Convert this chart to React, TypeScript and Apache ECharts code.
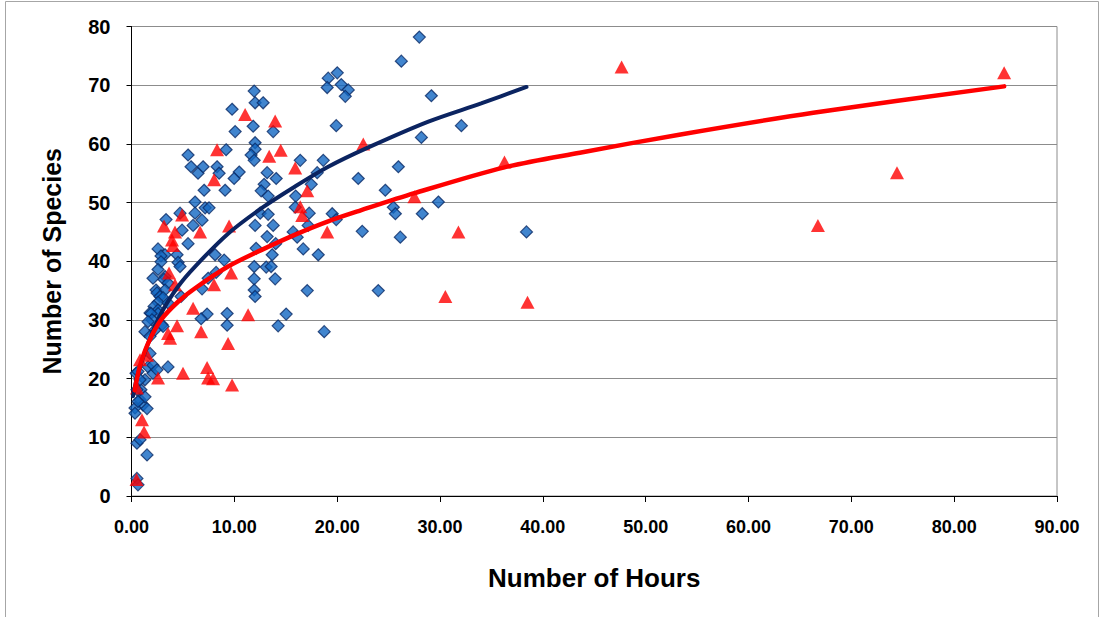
import React, { useEffect, useRef } from "react";
import * as echarts from "echarts";

// Blue diamonds: [hours, species]
const blueSites: [number, number][] = [
  [11.93, 69.0], [12.02, 67.0], [12.8, 67.0], [9.78, 65.9], [11.83, 63.0], [10.08, 62.1], [13.78, 62.1],
  [12.02, 60.2], [12.02, 59.1], [11.63, 58.1], [11.93, 57.2], [9.2, 59.0], [5.5, 58.1], [5.79, 56.1],
  [6.47, 55.0], [6.96, 56.1], [8.32, 56.1], [8.52, 55.0], [10.47, 55.2], [9.98, 54.1], [13.19, 55.1],
  [14.07, 54.1], [12.9, 53.1], [12.61, 52.0], [13.29, 51.1], [9.1, 52.1], [7.06, 52.1], [16.41, 57.2],
  [18.65, 57.2], [18.06, 55.1], [17.48, 53.1], [15.97, 51.1], [15.92, 49.2], [17.28, 48.2], [19.52, 48.1],
  [19.91, 47.1], [17.18, 46.1], [12.51, 48.2], [13.29, 48.0], [12.02, 46.1], [13.78, 46.1], [15.72, 45.0],
  [16.11, 44.1], [13.19, 44.2], [14.02, 43.0], [12.12, 42.2],
  [6.18, 50.1], [7.16, 49.1], [7.54, 49.1], [4.72, 48.2], [6.18, 48.2], [6.86, 47.0], [3.36, 47.1],
  [5.99, 46.1], [4.92, 45.3], [5.5, 43.0],
  [2.58, 42.1], [3.26, 41.1], [4.43, 41.1], [2.87, 40.9], [4.53, 39.8], [2.87, 39.9], [4.72, 39.1],
  [2.58, 38.6], [3.26, 37.4], [2.09, 37.1], [3.16, 36.9], [3.55, 36.3], [2.38, 35.1], [3.26, 35.1],
  [2.48, 34.6], [2.77, 34.0], [3.07, 33.8], [2.58, 33.0], [3.55, 32.9], [2.19, 32.3], [2.58, 31.7],
  [1.8, 31.2], [2.58, 31.1], [1.9, 31.1], [1.99, 30.0], [1.61, 29.7], [2.97, 29.2], [3.07, 28.9],
  [1.31, 28.0], [2.29, 28.3], [1.8, 27.2], [4.82, 34.0],
  [8.13, 41.1], [9.01, 40.2], [8.23, 38.1], [7.45, 37.1], [6.86, 35.3], [7.35, 31.0], [6.77, 30.2],
  [9.3, 31.1], [9.3, 29.1],
  [13.68, 41.1], [16.7, 42.1], [18.16, 41.1], [11.93, 39.1], [13.1, 39.0], [13.58, 39.1], [11.93, 37.0],
  [13.97, 37.0], [11.93, 35.1], [12.02, 34.0], [17.09, 35.0], [15.04, 31.0], [14.26, 29.0], [18.74, 28.0],
  [22.05, 54.1], [24.68, 52.1], [25.95, 56.1], [25.46, 49.2], [25.66, 48.1], [28.28, 48.1], [29.84, 50.1],
  [28.19, 61.1], [29.16, 68.2], [32.08, 63.1], [22.44, 45.1], [26.14, 44.1], [26.24, 74.1], [27.99, 78.2],
  [24.0, 35.0], [38.41, 45.0],
  [20.01, 72.1], [19.13, 71.2], [19.03, 69.6], [20.4, 70.1], [21.08, 69.2], [20.79, 68.1], [19.91, 63.1],
  [3.55, 22.0], [0.44, 20.9], [1.61, 22.0], [2.09, 20.9], [1.31, 19.8], [0.92, 18.1], [0.83, 16.4],
  [1.12, 15.5], [0.34, 15.0], [1.8, 24.3], [2.09, 22.3], [2.48, 21.5], [0.63, 21.2], [0.83, 19.8],
  [0.53, 18.1], [1.31, 16.9], [0.63, 16.1], [1.51, 14.9], [0.34, 14.1], [0.53, 9.0], [0.83, 9.6],
  [1.51, 7.0], [0.53, 3.0], [0.63, 1.9],
];

// Red triangles: [hours, species]
const redSites: [number, number][] = [
  [11.05, 65.0], [13.97, 63.9], [8.32, 59.0], [14.51, 58.9], [13.39, 57.9], [15.92, 55.9], [8.03, 53.9],
  [22.54, 60.0], [17.09, 52.0], [36.27, 56.9], [27.51, 51.0], [16.41, 49.3], [16.6, 47.8], [4.92, 47.9],
  [3.16, 46.0], [4.23, 45.0], [6.67, 45.0], [9.49, 46.0], [19.03, 45.0], [31.79, 45.0], [3.94, 43.6],
  [4.04, 42.7], [3.65, 38.0], [4.23, 36.0], [8.03, 36.0], [9.69, 38.0], [5.99, 32.0], [4.43, 29.0],
  [11.34, 30.9], [6.77, 28.0], [3.55, 27.7], [3.75, 26.9], [9.39, 26.0], [30.52, 34.0], [38.51, 33.0],
  [1.51, 24.0], [2.58, 20.1], [5.01, 20.9], [7.35, 21.9], [7.45, 20.1], [7.93, 20.0], [9.78, 18.9],
  [1.02, 13.0], [1.22, 10.9], [0.49, 2.8], [0.53, 18.4], [0.83, 23.2], [47.66, 73.1], [66.75, 46.1],
  [74.44, 55.1], [84.86, 72.1],
];

// Trend curves
const blueTrend: [number, number][] = [
  [0.15, 17.0], [0.63, 20.9], [1.61, 26.0], [2.87, 31.1], [4.53, 35.7], [6.18, 39.1], [9.39, 44.7],
  [12.61, 49.0], [15.87, 52.7], [19.13, 56.1], [23.03, 59.4], [28.87, 63.8], [34.0, 66.9], [38.41, 69.7],
];
const redTrend: [number, number][] = [
  [0.31, 18.0], [0.8, 22.0], [1.61, 26.0], [2.87, 30.0], [4.53, 33.1], [6.18, 35.4], [9.39, 39.1],
  [12.61, 41.9], [15.87, 44.5], [19.13, 46.8], [22.35, 48.7], [27.51, 51.6], [36.27, 56.0], [43.6, 58.5],
  [53.4, 61.6], [66.3, 65.3], [84.86, 69.8],
];

const xName = "Number of Hours";
const yName = "Number of Species";
const FONT = "'Liberation Sans', Arial, Helvetica, sans-serif";

export default function App() {
  const ref = useRef<HTMLDivElement>(null);
  useEffect(() => {
    const chart = echarts.init(ref.current!, null, { renderer: "svg" });
    chart.setOption({
      animation: false,
      backgroundColor: "#ffffff",
      textStyle: { fontFamily: FONT },
      graphic: [
        {
          type: "rect",
          shape: { x: 5.5, y: 1.5, width: 1093, height: 640 },
          style: { fill: "none", stroke: "#a6a6a6", lineWidth: 1 },
          silent: true,
        },
      ],
      grid: {
        left: 131.5,
        right: 47,
        top: 26.5,
        bottom: 121,
        show: true,
        borderColor: "#8c8c8c",
        borderWidth: 1,
      },
      xAxis: {
        type: "value",
        min: 0,
        max: 90,
        interval: 10,
        name: xName,
        nameLocation: "middle",
        nameGap: 69,
        nameTextStyle: { fontSize: 26, fontWeight: "bold", color: "#000", fontFamily: FONT },
        axisLine: { show: true, onZero: false, lineStyle: { color: "#000", width: 1 } },
        axisTick: { show: true, length: 6, lineStyle: { color: "#000" } },
        axisLabel: {
          formatter: (v: number) => v.toFixed(2),
          fontSize: 18,
          fontWeight: "bold",
          color: "#000",
          margin: 22,
          fontFamily: FONT,
        },
        splitLine: { show: false },
      },
      yAxis: {
        type: "value",
        min: 0,
        max: 80,
        interval: 10,
        name: yName,
        nameLocation: "middle",
        nameGap: 67,
        nameTextStyle: { fontSize: 25, fontWeight: "bold", color: "#000", fontFamily: FONT },
        axisLine: { show: true, onZero: false, lineStyle: { color: "#000", width: 1 } },
        axisTick: { show: true, length: 5, lineStyle: { color: "#000" } },
        axisLabel: { fontSize: 20, fontWeight: "bold", color: "#000", margin: 21, fontFamily: FONT },
        splitLine: { show: true, lineStyle: { color: "#8c8c8c", width: 1 } },
      },
      series: [
        {
          type: "scatter",
          data: blueSites,
          symbol: "diamond",
          symbolSize: [12, 12],
          itemStyle: { color: "#1166C2", borderColor: "#0A2A66", borderWidth: 1.2 },
          z: 2,
        },
        {
          type: "scatter",
          data: redSites,
          symbol: "triangle",
          symbolSize: [14, 13],
          itemStyle: { color: "#FF0000" },
          z: 3,
        },
        {
          type: "line",
          data: blueTrend,
          smooth: 0.3,
          showSymbol: false,
          symbol: "none",
          lineStyle: { color: "#0B2461", width: 4, cap: "round" },
          z: 4,
        },
        {
          type: "line",
          data: redTrend,
          smooth: 0.3,
          showSymbol: false,
          symbol: "none",
          lineStyle: { color: "#FF0000", width: 4.5, cap: "round" },
          z: 4,
        },
      ],
    });
    return () => chart.dispose();
  }, []);
  return (
    <div
      ref={ref}
      style={{ position: "fixed", left: 0, top: 0, width: 1104, height: 617, background: "#fff" }}
    />
  );
}
